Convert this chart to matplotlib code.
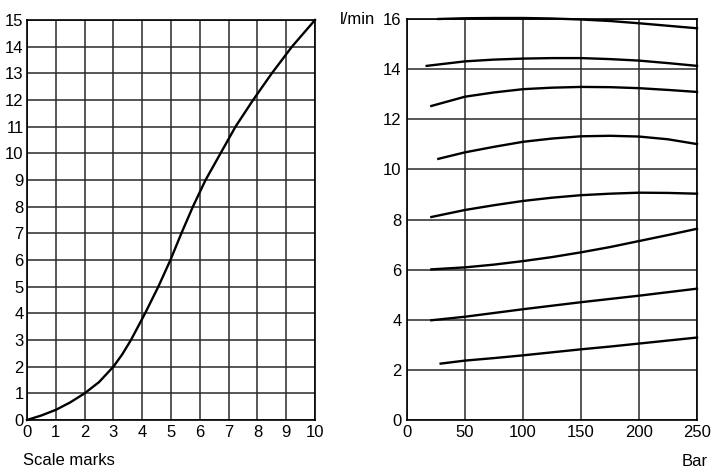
import matplotlib
matplotlib.use("Agg")
import matplotlib.pyplot as plt

plt.rcParams["font.family"] = ["Liberation Sans", "DejaVu Sans"]

# ── Data: left chart (flow vs scale marks) ─────────────────────
scale_x = [0, 0.5, 1, 1.5, 2, 2.5, 3.0, 3.3, 3.61, 4.1, 4.56, 4.98, 5.36,
           5.76, 6.2, 6.72, 7.24, 7.85, 8.5, 9.2, 10]
scale_y = [0, 0.17, 0.38, 0.66, 1.0, 1.42, 2.0, 2.45, 3, 4, 5, 6, 7,
           8, 9, 10, 11, 12, 13, 14, 15]
left_xticks = list(range(0, 11))
left_yticks = list(range(0, 16))

# ── Data: right chart (flow vs pressure) ───────────────────────
bar_x = [[27, 50, 75, 100, 125, 150, 175, 200, 225, 250],
         [17, 50, 75, 100, 125, 150, 175, 200, 225, 250],
         [21, 50, 75, 100, 125, 150, 175, 200, 225, 250],
         [27, 50, 75, 100, 125, 150, 175, 200, 225, 250],
         [21, 50, 75, 100, 125, 150, 175, 200, 225, 250],
         [21, 50, 75, 100, 125, 150, 175, 200, 225, 250],
         [21, 50, 75, 100, 125, 150, 175, 200, 225, 250],
         [29, 50, 75, 100, 125, 150, 175, 200, 225, 250]]
flow_y = [[16.0, 16.03, 16.04, 16.04, 16.02, 15.98, 15.92, 15.83, 15.73, 15.63],
          [14.13, 14.31, 14.38, 14.42, 14.44, 14.44, 14.40, 14.34, 14.24, 14.13],
          [12.53, 12.9, 13.07, 13.2, 13.26, 13.29, 13.28, 13.24, 13.17, 13.09],
          [10.42, 10.68, 10.9, 11.1, 11.23, 11.32, 11.34, 11.31, 11.2, 11.01],
          [8.1, 8.38, 8.57, 8.74, 8.87, 8.97, 9.03, 9.07, 9.06, 9.03],
          [6.01, 6.09, 6.2, 6.34, 6.5, 6.69, 6.9, 7.14, 7.38, 7.63],
          [3.98, 4.12, 4.27, 4.42, 4.56, 4.70, 4.83, 4.96, 5.1, 5.24],
          [2.25, 2.37, 2.47, 2.58, 2.7, 2.82, 2.93, 3.05, 3.17, 3.29]]
right_xticks = [0, 50, 100, 150, 200, 250]
right_yticks = [0, 2, 4, 6, 8, 10, 12, 14, 16]

GRID = "#2a2a2a"
FS = 12

fig = plt.figure(figsize=(7.11, 4.72), dpi=100)

# ── Left chart ─────────────────────────────────────────────────
ax1 = fig.add_axes([27 / 711, 52 / 472, 288 / 711, 400 / 472])
ax1.set_xlim(0, 10)
ax1.set_ylim(0, 15)
ax1.set_xticks(left_xticks)
ax1.set_yticks(left_yticks)
ax1.grid(True, color=GRID, lw=1.1)
ax1.plot(scale_x, scale_y, color="black", lw=1.7, clip_on=False)
ax1.tick_params(axis="y", length=0, labelsize=FS, pad=2.5)
ax1.tick_params(axis="x", length=0, labelsize=FS, pad=3.5)
for s in ax1.spines.values():
    s.set_linewidth(1.2)
ax1.text(-0.015, -0.102, "Scale marks", transform=ax1.transAxes,
         fontsize=FS, ha="left", va="center")

# ── Right chart ────────────────────────────────────────────────
ax2 = fig.add_axes([407 / 711, 52 / 472, 290 / 711, 401 / 472])
ax2.set_xlim(0, 250)
ax2.set_ylim(0, 16)
ax2.set_xticks(right_xticks)
ax2.set_yticks(right_yticks)
ax2.grid(True, color=GRID, lw=1.1)
for xs, ys in zip(bar_x, flow_y):
    ax2.plot(xs, ys, color="black", lw=1.7, clip_on=False)
ax2.tick_params(axis="y", length=0, labelsize=FS, pad=4)
ax2.tick_params(axis="x", length=0, labelsize=FS, pad=3.5)
for s in ax2.spines.values():
    s.set_linewidth(1.2)
ax2.text(-0.110, 0.998, "l/min", transform=ax2.transAxes,
         fontsize=FS, ha="right", va="center")
ax2.text(1.038, -0.104, "Bar", transform=ax2.transAxes,
         fontsize=FS, ha="right", va="center")

fig.savefig("out.png", dpi=100)
